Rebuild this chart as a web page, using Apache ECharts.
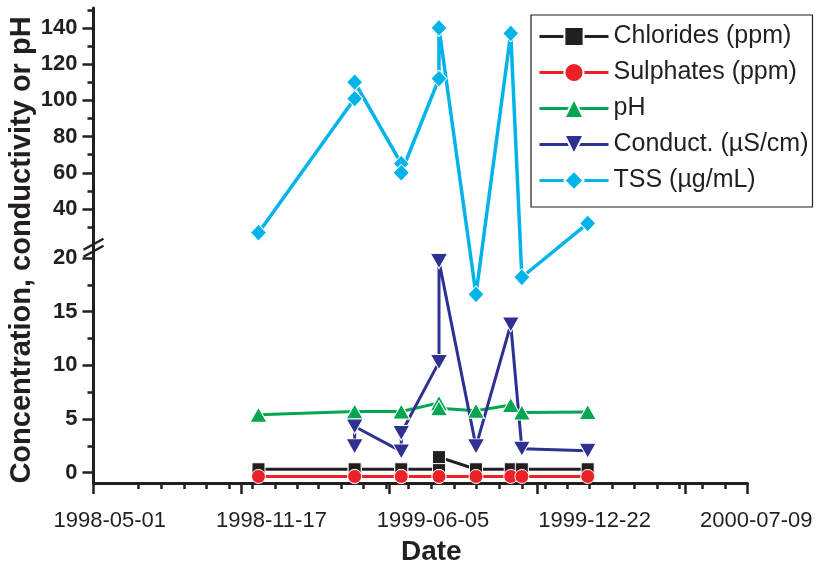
<!DOCTYPE html>
<html>
<head>
<meta charset="utf-8">
<title>Water quality</title>
<script src="https://cdn.jsdelivr.net/npm/echarts@6/dist/echarts.min.js"></script>
<style>
  html, body { margin: 0; padding: 0; background: #fff; }
  #chart { width: 816px; height: 565px; }
</style>
</head>
<body>
<div id="chart"></div>
<script>
// sampling dates (some days were sampled twice)
const sampleDates = ['1998-12-10', '1999-04-19', '1999-04-19', '1999-06-21', '1999-06-21',
  '1999-08-11', '1999-08-11', '1999-09-30', '1999-11-16', '1999-12-01', '2000-02-28'];

const chlorides = [0.32, 0.32, 0.32, 0.32, 0.32, 0.32, 1.45, 0.32, 0.32, 0.32, 0.32];
const sulphates = [-0.35, -0.35, -0.35, -0.35, -0.35, -0.35, -0.35, -0.35, -0.35, -0.35, -0.35];
const ph = [5.4, 5.7, 5.7, 5.7, 5.7, 6.5, 6.0, 5.77, 6.3, 5.6, 5.65];
const conduct = [null, 2.45, 4.3, 1.98, 3.7, 10.3, 19.7, 2.45, 13.8, 2.23, 2.05];
const tss = [26.9, 101, 110, 65, 60, 112, 140, 16.6, 137, 18.2, 32];

const xTickLabels = ['1998-05-01', '1998-11-17', '1999-06-05', '1999-12-22', '2000-07-09'];
const lowerTicks = [0, 5, 10, 15, 20];
const lowerMinor = [2.5, 7.5, 12.5, 17.5];
const upperTicks = [40, 60, 80, 100, 120, 140];
const upperMinor = [30, 50, 70, 90, 110, 130, 150];

const DAY = 86400000;
const ts = s => Date.parse(s + 'T00:00:00Z');
const iso = v => new Date(v).toISOString().slice(0, 10);

// broken y axis: below BREAK plotted as is, above it squeezed
const BREAK = 20.9;
const UP_BASE = 24.56, UP_K = 0.1686;
const toAxis = v => v <= BREAK ? v : UP_BASE + (v - 40) * UP_K;
const fromAxis = d => d <= BREAK ? d : 40 + (d - UP_BASE) / UP_K;

const xMin = ts('1998-05-01');
const xMax = ts('2000-10-01');
const yMin = -0.96;
const yMax = toAxis(151);

// monthly minor ticks
const monthTicks = [];
for (let y = 1998, m = 5; y * 12 + m < 2000 * 12 + 9; ) {
  m++; if (m > 11) { m = 0; y++; }
  monthTicks.push(Date.UTC(y, m, 1));
}

// date labels in the figure sit on a slightly stretched scale
const labelMin = xMin - 20.2 * DAY;
const labelMax = labelMin + 874.4 * DAY;

const INK = '#231f20';
const FONT = '"Liberation Sans", Arial, Helvetica, sans-serif';

function pairs(vals) {
  const out = [];
  vals.forEach((v, i) => { if (v != null) out.push([ts(sampleDates[i]), toAxis(v)]); });
  return out;
}

function mkSeries(name, vals, color, symbol, size, extra) {
  return Object.assign({
    name: name,
    type: 'line',
    xAxisIndex: 0,
    yAxisIndex: 0,
    data: pairs(vals),
    symbol: symbol,
    symbolSize: size,
    color: color,
    lineStyle: { width: 3, color: color },
    itemStyle: { color: color, borderColor: '#fff', borderWidth: 1 },
    emphasis: { disabled: true }
  }, extra || {});
}

const chart = echarts.init(document.getElementById('chart'));

const option = {
  animation: false,
  backgroundColor: '#fff',
  textStyle: { fontFamily: FONT, color: INK },
  title: {
    text: 'Date',
    left: 401,
    top: 538,
    padding: 0,
    textStyle: { fontSize: 28, fontWeight: 'bold', color: INK, fontFamily: FONT }
  },
  legend: {
    orient: 'vertical',
    left: 531,
    top: 15,
    padding: [9, 4, 14, 7],
    itemGap: 11,
    itemWidth: 69,
    itemHeight: 24,
    borderColor: INK,
    borderWidth: 1.2,
    lineStyle: { width: 3 },
    textStyle: { fontSize: 25, lineHeight: 24, color: INK, fontFamily: FONT },
    data: ['Chlorides (ppm)', 'Sulphates (ppm)', 'pH', 'Conduct. (µS/cm)', 'TSS (µg/mL)']
  },
  grid: [
    { left: 93.5, right: 68.5, top: 8, bottom: 82, outerBoundsMode: 'none', containLabel: false },
    { left: 93.5, right: 16, top: 8, bottom: 82, outerBoundsMode: 'none', containLabel: false }
  ],
  xAxis: [
    {
      gridIndex: 0, type: 'value', position: 'bottom',
      min: xMin, max: xMax, interval: 200 * DAY,
      axisLine: { onZero: false, lineStyle: { color: INK, width: 3 } },
      axisTick: { length: 11, lineStyle: { color: INK, width: 2.5 } },
      axisLabel: { show: false },
      splitLine: { show: false }
    },
    {
      gridIndex: 0, type: 'value', position: 'bottom',
      min: xMin, max: xMax,
      axisLine: { show: false, onZero: false },
      axisTick: { customValues: monthTicks, length: 6, lineStyle: { color: INK, width: 2.5 } },
      axisLabel: { show: false },
      splitLine: { show: false }
    },
    {
      gridIndex: 1, type: 'value', position: 'bottom',
      min: labelMin, max: labelMax,
      axisLine: { show: false, onZero: false },
      axisTick: { show: false },
      splitLine: { show: false },
      axisLabel: {
        customValues: xTickLabels.map(ts),
        formatter: v => iso(v),
        margin: 27,
        fontSize: 22,
        color: INK,
        fontFamily: FONT
      }
    }
  ],
  yAxis: [
    {
      gridIndex: 0, type: 'value', position: 'left',
      min: yMin, max: yMax,
      axisLine: { onZero: false, lineStyle: { color: INK, width: 3 } },
      axisTick: {
        customValues: lowerTicks.concat(upperTicks).map(toAxis),
        length: 11, lineStyle: { color: INK, width: 2.5 }
      },
      axisLabel: {
        customValues: lowerTicks.concat(upperTicks).map(toAxis),
        formatter: d => String(Math.round(fromAxis(d))),
        margin: 16,
        fontSize: 22,
        fontWeight: 'bold',
        color: INK,
        fontFamily: FONT
      },
      splitLine: { show: false }
    },
    {
      gridIndex: 0, type: 'value', position: 'left',
      min: yMin, max: yMax,
      axisLine: { show: false, onZero: false },
      axisTick: {
        customValues: lowerMinor.concat(upperMinor).map(toAxis),
        length: 6, lineStyle: { color: INK, width: 2.5 }
      },
      axisLabel: { show: false },
      splitLine: { show: false }
    },
    { gridIndex: 1, type: 'value', show: false, min: 0, max: 1 }
  ],
  series: [
    mkSeries('Chlorides (ppm)', chlorides, INK, 'rect', 13),
    mkSeries('Sulphates (ppm)', sulphates, '#ec2027', 'circle', 14),
    mkSeries('pH', ph, '#00a650', 'triangle', [17, 15]),
    mkSeries('Conduct. (µS/cm)', conduct, '#2e3192', 'triangle', [17, 15], { symbolRotate: 180 }),
    mkSeries('TSS (µg/mL)', tss, '#00b3e8', 'diamond', [16, 17], { lineStyle: { width: 3.5, color: '#00b3e8' } })
  ]
};

chart.setOption(option);

// axis break marks and the rotated y-axis title
const bx = chart.convertToPixel({ xAxisIndex: 0 }, xMin);
const by = chart.convertToPixel({ yAxisIndex: 0 }, BREAK);
chart.setOption({
  graphic: [
    { type: 'line', shape: { x1: bx - 10, y1: by - 3.5 + 5, x2: bx + 10, y2: by - 3.5 - 6 }, style: { stroke: INK, lineWidth: 2.5 } },
    { type: 'line', shape: { x1: bx - 10, y1: by + 3.5 + 5, x2: bx + 10, y2: by + 3.5 - 6 }, style: { stroke: INK, lineWidth: 2.5 } },
    {
      type: 'text', x: 22, y: 250, rotation: Math.PI / 2,
      style: {
        text: 'Concentration, conductivity or pH',
        fill: INK, font: 'bold 29px ' + FONT,
        align: 'center', verticalAlign: 'middle'
      }
    }
  ]
});
</script>
</body>
</html>
